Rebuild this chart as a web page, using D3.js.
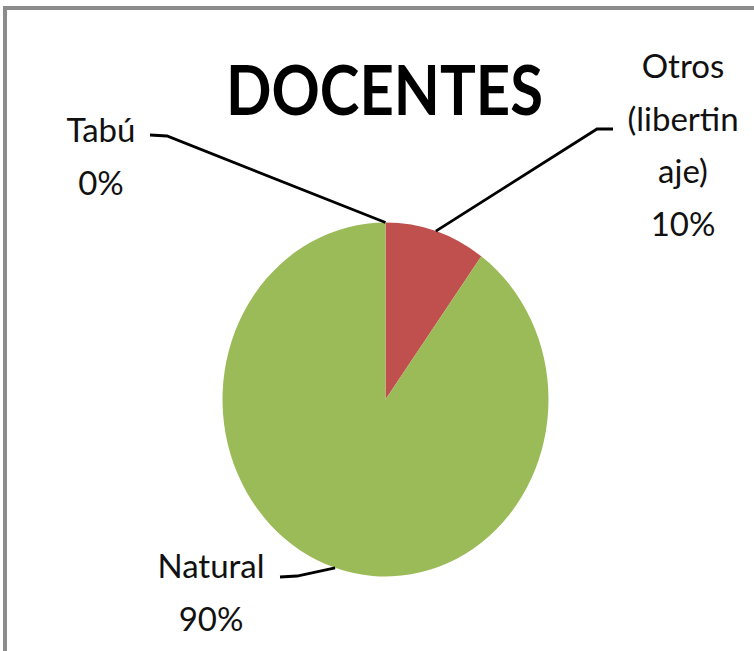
<!DOCTYPE html>
<html>
<head>
<meta charset="utf-8">
<script src="https://cdn.jsdelivr.net/npm/d3@7"></script>
<style>
  html, body { margin: 0; padding: 0; background: #fff; }
  text { font-family: Lato, "Open Sans", sans-serif; }
</style>
</head>
<body>
<div id="vis"></div>
<script>
(function () {
  'use strict';

  // data
  var CATEGORIES = ['Tabú', 'Otros (libertinaje)', 'Natural'];
  var VALUES = [0, 10, 90];
  var COLORS = ['#4F81BD', '#C0504D', '#9BBB59'];
  // label lines as they wrap in the original
  var LABEL_LINES = [['Tabú', '0%'], ['Otros', '(libertin', 'aje)', '10%'], ['Natural', '90%']];

  var WIDTH = 754;
  var HEIGHT = 651;
  var CX = 385.5;
  var CY = 399.5;
  var R = 163;
  var SY = 177 / 163; // the original is stretched vertically

  // label layout: centre x, first baseline, stub start/end
  var LABEL_POS = [
    { x: 101, y: 142, stub: [[150, 135], [167, 136]] },
    { x: 683, y: 78, stub: [[613, 129], [597, 129]] },
    { x: 211, y: 578, stub: [[280, 577], [297, 576]] }
  ];
  var LINE_H = 52.5;

  var svg = d3.select('#vis').append('svg')
    .attr('width', WIDTH)
    .attr('height', HEIGHT);

  svg.append('rect')
    .attr('x', 5).attr('y', 8)
    .attr('width', 900).attr('height', 900)
    .attr('fill', '#fff')
    .attr('stroke', '#8c8c8c')
    .attr('stroke-width', 4);

  svg.append('text')
    .attr('x', 384.5)
    .attr('y', 115)
    .attr('text-anchor', 'middle')
    .attr('font-size', 68)
    .attr('font-weight', 'bold')
    .attr('textLength', 317)
    .attr('lengthAdjust', 'spacingAndGlyphs')
    .attr('fill', '#000')
    .text('DOCENTES');

  var pie = d3.pie().sort(null).value(function (d) { return d; });
  var arcs = pie(VALUES);
  var arc = d3.arc().innerRadius(0).outerRadius(R);
  var edge = d3.arc().innerRadius(R).outerRadius(R);

  var g = svg.append('g')
    .attr('transform', 'translate(' + CX + ',' + CY + ') scale(1,' + SY + ')');

  g.selectAll('path.slice')
    .data(arcs)
    .enter().append('path')
    .attr('class', 'slice')
    .attr('d', arc)
    .attr('fill', function (d, i) { return COLORS[i]; });

  // leader lines from slice edge to label
  var line = d3.line();
  svg.selectAll('path.leader')
    .data(arcs)
    .enter().append('path')
    .attr('class', 'leader')
    .attr('d', function (d, i) {
      var c = edge.centroid(d);
      var p = [CX + c[0], CY + c[1] * SY];
      var s = LABEL_POS[i].stub;
      return line([s[0], s[1], p]);
    })
    .attr('fill', 'none')
    .attr('stroke', '#000')
    .attr('stroke-width', 2.8);

  var labels = svg.selectAll('text.label')
    .data(arcs)
    .enter().append('text')
    .attr('class', 'label')
    .attr('text-anchor', 'middle')
    .attr('font-size', 33)
    .attr('fill', '#111');

  labels.selectAll('tspan')
    .data(function (d, i) {
      return LABEL_LINES[i].map(function (t, j) { return { t: t, i: i, j: j }; });
    })
    .enter().append('tspan')
    .attr('x', function (d) { return LABEL_POS[d.i].x; })
    .attr('y', function (d) { return LABEL_POS[d.i].y + d.j * LINE_H; })
    .text(function (d) { return d.t; });
})();
</script>
</body>
</html>
